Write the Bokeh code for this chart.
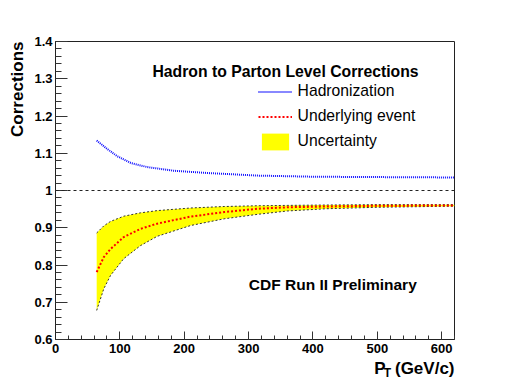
from bokeh.plotting import figure
from bokeh.models import (Range1d, FixedTicker, CustomJSTickFormatter, Span,
                          Label, Legend, LegendItem, Title)
from bokeh.embed import file_html
from bokeh.resources import INLINE

# ---- data ----
pt_band = [64, 75, 85.5, 106, 132, 158, 210, 262, 314, 360, 420, 500, 620]
ue_upper = [0.886, 0.905, 0.917, 0.931, 0.940, 0.946, 0.953, 0.957, 0.959, 0.960, 0.961, 0.962, 0.962]
ue_central = [0.781, 0.821, 0.843, 0.875, 0.897, 0.911, 0.930, 0.942, 0.951, 0.955, 0.957, 0.959, 0.960]
ue_lower = [0.678, 0.736, 0.772, 0.817, 0.852, 0.877, 0.906, 0.924, 0.936, 0.945, 0.951, 0.955, 0.958]

pt_had = [64, 80, 96, 117, 142, 184, 236, 314, 400, 500, 620]
hadronization = [1.134, 1.112, 1.092, 1.074, 1.063, 1.053, 1.047, 1.040, 1.037, 1.036, 1.035]

x_ticks = [0, 100, 200, 300, 400, 500, 600]
y_ticks = [0.6, 0.7, 0.8, 0.9, 1.0, 1.1, 1.2, 1.3, 1.4]
x_minor = [i * 20 for i in range(0, 32)]
y_minor = [round(0.6 + i * 0.02, 3) for i in range(0, 41)]

FONT = "Liberation Sans"

p = figure(width=509, height=381, output_backend="svg", toolbar_location=None,
           x_range=Range1d(0, 620), y_range=Range1d(0.6, 1.4), title=None)
p.min_border_left = 55
p.min_border_right = 55
p.min_border_top = 41
p.min_border_bottom = 42
p.background_fill_color = "white"
p.border_fill_color = "white"
p.outline_line_color = "#222222"
p.outline_line_width = 1
p.xgrid.visible = False
p.ygrid.visible = False

p.xaxis.ticker = FixedTicker(ticks=x_ticks, minor_ticks=x_minor)
p.yaxis.ticker = FixedTicker(ticks=y_ticks, minor_ticks=y_minor)
p.yaxis.formatter = CustomJSTickFormatter(code="return String(Number(tick.toFixed(1)));")
for ax in (p.xaxis, p.yaxis):
    ax.axis_line_color = "#222222"
    ax.major_tick_line_color = "#333333"
    ax.minor_tick_line_color = "#333333"
    ax.major_tick_out = 0
    ax.minor_tick_out = 0
    ax.major_label_text_font = FONT
    ax.major_label_text_font_style = "bold"
    ax.major_label_text_font_size = "13px"
    ax.major_label_text_color = "black"
p.yaxis.major_tick_in = 12
p.yaxis.minor_tick_in = 6
p.xaxis.major_tick_in = 8
p.xaxis.minor_tick_in = 4
p.yaxis.major_label_standoff = 3
p.xaxis.major_label_standoff = 4

# uncertainty band
band = p.varea(x=pt_band, y1=ue_lower, y2=ue_upper, fill_color="#ffff00")
p.line(pt_band, ue_upper, line_color="#333333", line_width=1, line_dash="2 2")
p.line(pt_band, ue_lower, line_color="#333333", line_width=1, line_dash="2 2")

ue = p.line(pt_band, ue_central, line_color="#ff0000", line_width=2, line_dash="2 2")
had = p.line(pt_had, hadronization, line_color="#1111ff", line_width=2, line_dash="1 1")

p.add_layout(Span(location=1.0, dimension="width", line_color="#222222",
                  line_width=1, line_dash="3 3"))

legend = Legend(items=[LegendItem(label="Hadronization", renderers=[had]),
                       LegendItem(label="Underlying event", renderers=[ue]),
                       LegendItem(label="Uncertainty", renderers=[band])],
                location=(202.6, 187.5), glyph_width=34, glyph_height=21, label_height=21,
                spacing=4, padding=0, margin=0, label_standoff=6,
                background_fill_alpha=0, border_line_alpha=0,
                label_text_font=FONT, label_text_font_size="15.7px", label_text_color="black")
p.add_layout(legend)

def lab(x, y, text, size, **kw):
    p.add_layout(Label(x=x, y=y, text=text, text_font=FONT, text_font_size=size,
                       text_font_style="bold", text_color="black", **kw))

lab(150.7, 1.3203, "Hadron to Parton Level Corrections", "15.75px", text_baseline="alphabetic")
lab(300.4, 0.7477, "CDF Run II Preliminary", "15.5px", text_baseline="alphabetic")

# axis titles (side panels, so they are not clipped to the frame)
def side_title(text, size, place, **kw):
    t = Title(text=text, text_font=FONT, text_font_size=size, text_font_style="bold",
              text_color="black", **kw)
    p.add_layout(t, place)

side_title("Corrections", "17px", "left", align="right", standoff=10)
side_title("P\u00a0\u00a0(GeV/c)", "17px", "below", align="right", standoff=2)
side_title("T", "12px", "below", align="right", vertical_align="top", offset=63.3, standoff=-25)

open("out.html", "w").write(file_html(p, INLINE))
